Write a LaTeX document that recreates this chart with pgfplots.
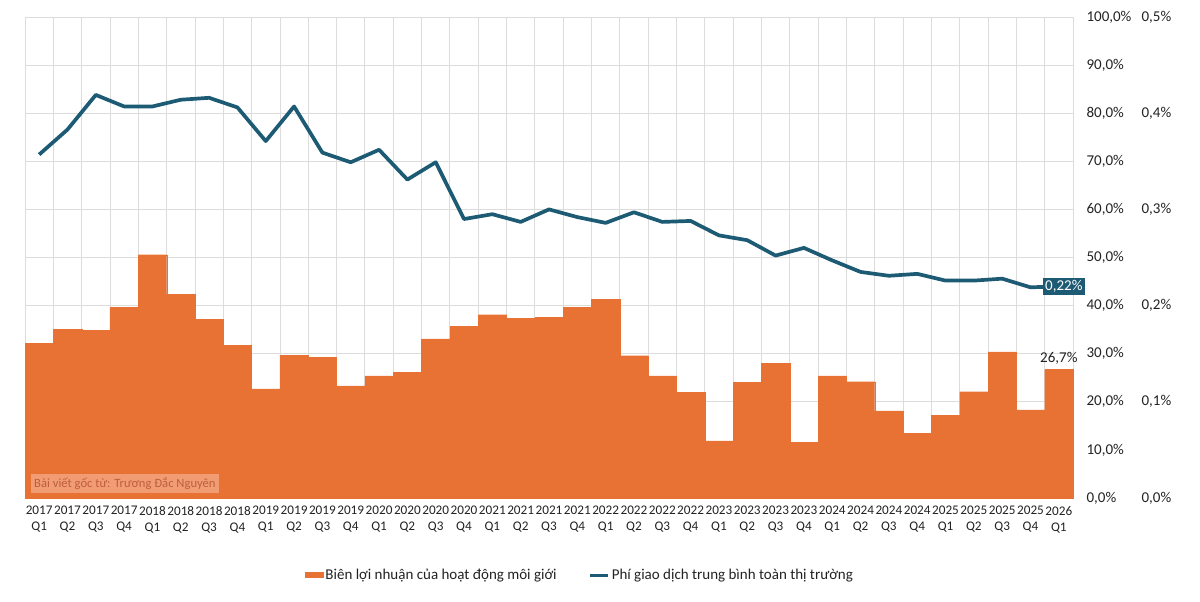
\documentclass[border=0pt]{standalone}
\usepackage{pgfplots}
\pgfplotsset{compat=1.18}
\usepackage{fontspec}
\setmainfont{Carlito}
\definecolor{barorange}{HTML}{E87234}
\definecolor{lineteal}{HTML}{1D5A73}
\definecolor{gridgray}{HTML}{DCDCDC}
\definecolor{wmfill}{HTML}{F29C74}
\definecolor{wmtext}{HTML}{BE5E3A}
\definecolor{txt}{HTML}{222222}

\pgfplotstableread{
x y
0 32.2
1 35.1
2 34.9
3 39.6
4 50.6
5 42.4
6 37.1
7 31.7
8 22.7
9 29.7
10 29.2
11 23.3
12 25.4
13 26.1
14 33.1
15 35.7
16 38.1
17 37.4
18 37.6
19 39.6
20 41.3
21 29.6
22 25.4
23 22.0
24 11.9
25 24.0
26 28.0
27 11.6
28 25.4
29 24.2
30 18.1
31 13.4
32 17.2
33 22.1
34 30.4
35 18.3
36 26.7
}\bars

\pgfplotstableread{
x y
0 0.357
1 0.383
2 0.419
3 0.407
4 0.407
5 0.414
6 0.416
7 0.406
8 0.371
9 0.407
10 0.359
11 0.349
12 0.362
13 0.331
14 0.349
15 0.290
16 0.295
17 0.287
18 0.300
19 0.292
20 0.286
21 0.297
22 0.287
23 0.288
24 0.273
25 0.268
26 0.252
27 0.260
28 0.247
29 0.235
30 0.231
31 0.233
32 0.226
33 0.226
34 0.228
35 0.219
36 0.220
}\fee

\begin{document}
\begin{tikzpicture}[font=\fontsize{15}{17}\selectfont]
\begin{axis}[name=a, scale only axis, width=1048pt, height=481pt, clip=false,
  xmin=-0.5, xmax=36.5, ymin=0, ymax=100,
  axis line style={draw=none}, major tick length=0pt, minor tick length=0pt,
  xtick={0,...,36},
  xticklabels={{2017\\Q1},{2017\\Q2},{2017\\Q3},{2017\\Q4},
    {2018\\Q1},{2018\\Q2},{2018\\Q3},{2018\\Q4},
    {2019\\Q1},{2019\\Q2},{2019\\Q3},{2019\\Q4},
    {2020\\Q1},{2020\\Q2},{2020\\Q3},{2020\\Q4},
    {2021\\Q1},{2021\\Q2},{2021\\Q3},{2021\\Q4},
    {2022\\Q1},{2022\\Q2},{2022\\Q3},{2022\\Q4},
    {2023\\Q1},{2023\\Q2},{2023\\Q3},{2023\\Q4},
    {2024\\Q1},{2024\\Q2},{2024\\Q3},{2024\\Q4},
    {2025\\Q1},{2025\\Q2},{2025\\Q3},{2025\\Q4},
    {2026\\Q1}},
  xticklabel style={align=center, text=txt, font=\fontsize{13.2}{16}\selectfont, inner sep=1pt, yshift=-7pt},
  minor xtick={-0.5,0.5,...,36.5}, xminorgrids=true,
  ytick={0,10,...,100}, ymajorgrids=true,
  grid style={gridgray, line width=0.8pt},
  minor grid style={gridgray, line width=0.8pt},
  yticklabel pos=right,
  yticklabel style={anchor=west, text=txt, xshift=10pt},
  yticklabel={\pgfmathprintnumber[fixed,fixed zerofill,precision=1,use comma,assume math mode=true]{\tick}\%},
  ybar, bar width=1, bar shift=0pt,
]
\addplot[fill=barorange, draw=barorange, line width=0.2pt] table[x=x,y=y] {\bars};
\node[anchor=south, text=txt, inner sep=2pt, yshift=3pt] at (axis cs:36,26.7) {26,7\%};
\node[anchor=south west, fill=wmfill, text=wmtext, inner sep=3pt, minimum height=19pt,
  font=\fontsize{12.6}{14}\selectfont] at ([shift={(6pt,5pt)}]rel axis cs:0,0) {Bài viết gốc từ: Trương Đắc Nguyên};
\end{axis}
\begin{axis}[scale only axis, width=1048pt, height=481pt, clip=false,
  xmin=-0.5, xmax=36.5, ymin=0, ymax=0.5,
  axis line style={draw=none}, major tick length=0pt,
  xtick=\empty,
  ytick={0,0.1,0.2,0.3,0.4,0.5},
  yticklabel pos=right,
  yticklabel style={anchor=west, text=txt, xshift=65pt},
  yticklabel={\pgfmathprintnumber[fixed,fixed zerofill,precision=1,use comma,assume math mode=true]{\tick}\%},
  legend style={draw=none, fill=none, at={(0.5296,0)}, anchor=center, yshift=-77pt,
    font=\fontsize{15}{17}\selectfont, text=txt,
    /tikz/every even column/.append style={column sep=30pt}},
  legend columns=2,
]
\addlegendimage{legend image code/.code={\fill[barorange] (0pt,-2.5pt) rectangle (18pt,2.5pt);}}
\addlegendentry{Biên lợi nhuận của hoạt động môi giới}
\addplot[lineteal, line width=3.7pt, line join=round, mark=none,
  legend image code/.code={\draw[lineteal, line width=3pt] (0pt,0pt) -- (18pt,0pt);}] table[x=x,y=y] {\fee};
\addlegendentry{Phí giao dịch trung bình toàn thị trường}
\node[fill=lineteal, text=white, inner sep=2.5pt, xshift=5pt] at (axis cs:36,0.22) {0,22\%};
\end{axis}
\pgfresetboundingbox
\path ([shift={(-25pt,-103pt)}]a.south west) rectangle ([shift={(127pt,17pt)}]a.north east);
\end{tikzpicture}
\end{document}
